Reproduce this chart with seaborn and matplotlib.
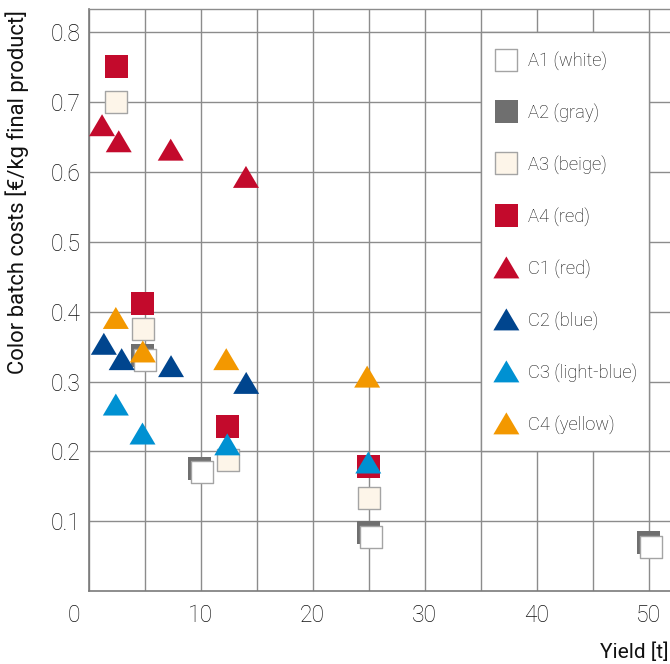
import matplotlib
matplotlib.use("Agg")
import matplotlib.pyplot as plt
import matplotlib.transforms as mtransforms
from matplotlib.path import Path
from matplotlib.patches import Rectangle
import seaborn as sns

# ---------------- data ----------------
series_names = ["A1 (white)", "A2 (gray)", "A3 (beige)", "A4 (red)",
                "C1 (red)", "C2 (blue)", "C3 (light-blue)", "C4 (yellow)"]

a1_x = [5.05, 10.15, 25.2, 50.2]
a1_y = [0.331, 0.170, 0.078, 0.063]
a2_x = [4.85, 9.95, 25.0, 50.0]
a2_y = [0.337, 0.176, 0.084, 0.069]
a3_x = [2.45, 4.85, 12.45, 25.0]
a3_y = [0.700, 0.3755, 0.187, 0.1335]
a4_x = [2.5, 4.82, 12.4, 25.0]
a4_y = [0.751, 0.412, 0.2355, 0.178]
c1_x = [1.21, 2.70, 7.34, 14.06]
c1_y = [0.667, 0.644, 0.632, 0.593]
c2_x = [1.37, 2.96, 7.37, 14.08]
c2_y = [0.354, 0.332, 0.322, 0.298]
c3_x = [2.44, 4.82, 12.39, 24.98]
c3_y = [0.267, 0.2255, 0.210, 0.184]
c4_x = [2.44, 4.85, 12.30, 24.88]
c4_y = [0.391, 0.343, 0.332, 0.307]

x_ticks = [0, 10, 20, 30, 40, 50]
x_tick_labels = ["0", "10", "20", "30", "40", "50"]
y_ticks = [0.1, 0.2, 0.3, 0.4, 0.5, 0.6, 0.7, 0.8]
y_tick_labels = ["0.1", "0.2", "0.3", "0.4", "0.5", "0.6", "0.7", "0.8"]
x_label = "Yield [t]"
y_label = "Color batch costs [€/kg final product]"

# ---------------- style ----------------
sns.set_style("white")
plt.rcParams["font.family"] = ["Roboto", "DejaVu Sans"]
plt.rcParams["font.weight"] = "light"

RED = "#C30A2C"
GRAY = "#6F6F6F"
BEIGE = "#FDF5E9"
EDGE = "#A4A4A4"
BLUE = "#00458E"
LBLUE = "#0091D2"
YELLOW = "#F39800"
GRID = "#8C8C8C"
TXT = "#111111"

tri = Path([(0, 0.846), (-1, -0.846), (1, -0.846), (0, 0.846)],
           [Path.MOVETO, Path.LINETO, Path.LINETO, Path.CLOSEPOLY])

fig = plt.figure(figsize=(6.7, 6.64), dpi=100)
ax = fig.add_axes([88.5 / 670, (664 - 591) / 664, 1 - 88.5 / 670, (591 - 9.3) / 664])

SQ_FILLED = 272
SQ_EDGED = 245
TRI = 350

# drawing order: A2 under A1, squares under triangles
specs = {
    "A2 (gray)": (a2_x, a2_y, "s", GRAY, "none", 0, SQ_FILLED),
    "A1 (white)": (a1_x, a1_y, "s", "white", EDGE, 1.0, SQ_EDGED),
    "A3 (beige)": (a3_x, a3_y, "s", BEIGE, EDGE, 1.0, SQ_EDGED),
    "A4 (red)": (a4_x, a4_y, "s", RED, "none", 0, SQ_FILLED),
    "C1 (red)": (c1_x, c1_y, tri, RED, "none", 0, TRI),
    "C2 (blue)": (c2_x, c2_y, tri, BLUE, "none", 0, TRI),
    "C3 (light-blue)": (c3_x, c3_y, tri, LBLUE, "none", 0, TRI),
    "C4 (yellow)": (c4_x, c4_y, tri, YELLOW, "none", 0, TRI),
}
handles = {}
for i, (name, (xs, ys, mk, fc, ec, lw, s)) in enumerate(specs.items()):
    sns.scatterplot(x=xs, y=ys, marker=mk, color=fc, edgecolor=ec, linewidth=lw,
                    s=s, ax=ax, zorder=3 + i * 0.1, legend=False)
    handles[name] = ax.collections[-1]

# axes limits / grid
ax.set_xlim(0, (670 - 88.5) / 11.2)
ax.set_ylim(0, 0.833)
ax.set_xticks(x_ticks)
ax.set_xticklabels(x_tick_labels)
ax.set_xticks([5, 15, 25, 35, 45], minor=True)
ax.set_yticks(y_ticks)
ax.set_yticklabels(y_tick_labels)
ax.set_axisbelow(True)
ax.grid(True, which="both", color=GRID, linewidth=1.0)
ax.tick_params(which="both", length=0)
ax.tick_params(axis="y", labelsize=16.5, pad=6, labelcolor=TXT)
ax.tick_params(axis="x", labelsize=16.5, pad=9, labelcolor=TXT)

for side in ["left", "bottom"]:
    ax.spines[side].set_color("#7A7A7A")
    ax.spines[side].set_linewidth(1.2)
ax.spines["top"].set_color(GRID)
ax.spines["top"].set_linewidth(1.0)
ax.spines["right"].set_visible(False)

# move the shared "0" label to the corner
off = mtransforms.ScaledTranslation(-0.145, 0, fig.dpi_scale_trans)
lab0 = ax.get_xticklabels()[0]
lab0.set_transform(lab0.get_transform() + off)

ax.set_xlabel(x_label, fontsize=15, ha="right", va="top", color=TXT)
ax.xaxis.set_label_coords(1 - 1.5 / 581.5, -0.088)
ax.set_ylabel(y_label, fontsize=15.8, color=TXT, ha="right", va="bottom")
ax.yaxis.set_label_coords(-0.103, 1.0 - 0.5 / 581.7)

# legend area
ax.add_patch(Rectangle((35, 0.2), 15, 0.6, facecolor="white", edgecolor=GRID,
                       linewidth=1.0, zorder=1))
leg = ax.legend([handles[n] for n in series_names], series_names,
                loc="upper left", bbox_to_anchor=(36.0, 0.773),
                bbox_transform=ax.transData, frameon=False, borderpad=0,
                borderaxespad=0, handlelength=1.6, handletextpad=0.4,
                labelspacing=1.80, fontsize=13.2, scatteryoffsets=[0.5],
                scatterpoints=1)
for t in leg.get_texts():
    t.set_color(TXT)

fig.savefig("out.png", dpi=100)
